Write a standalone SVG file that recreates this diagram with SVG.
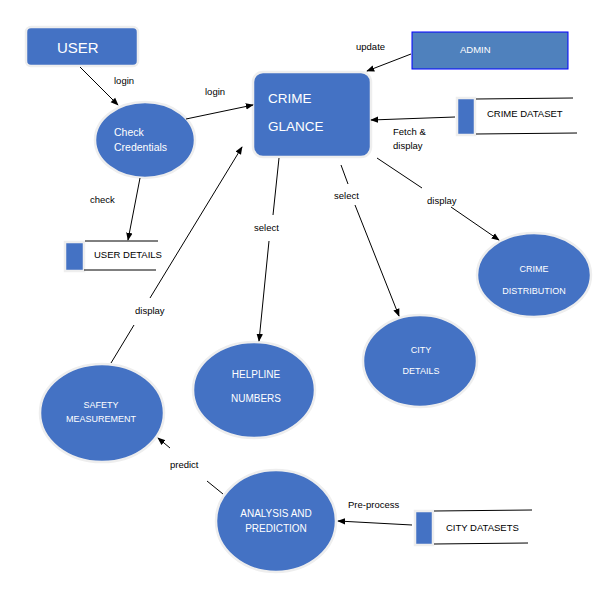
<svg xmlns="http://www.w3.org/2000/svg" width="596" height="590" viewBox="0 0 596 590">
<style>
.n{fill:#4472C4;stroke:#EEEEEE;stroke-width:2.5}
.w{fill:#FFFFFF;font-family:"Liberation Sans",Arial,sans-serif}
.b{fill:#000000;font-family:"Liberation Sans",Arial,sans-serif;font-size:9.5px}
.c{stroke:#000000;stroke-width:1;fill:none}
.s{stroke:#000000;stroke-width:1}
</style>
<defs>
<marker id="ah" viewBox="0 0 10 10" refX="9" refY="5" markerWidth="8" markerHeight="8" markerUnits="userSpaceOnUse" orient="auto">
<path d="M0,1 L10,5 L0,9 Z" fill="#000000"/>
</marker>
</defs>
<rect width="596" height="590" fill="#FFFFFF"/>
<g id="user"><rect class="n" x="26" y="27" width="112" height="39" rx="5"/><text class="w" x="57" y="53" font-size="15">USER</text></g>
<g id="check-credentials"><ellipse class="n" cx="145" cy="140" rx="50" ry="38"/><text class="w" x="114" y="136" font-size="10.5">Check</text><text class="w" x="114" y="151" font-size="10.5">Credentials</text></g>
<g id="crime-glance"><rect class="n" x="253" y="72" width="118" height="85" rx="10"/><text class="w" x="268" y="103" font-size="13.5">CRIME</text><text class="w" x="268" y="131" font-size="13.5">GLANCE</text></g>
<g id="admin"><rect x="412" y="32" width="156" height="37" fill="#4F81BD" stroke="#0000FF" stroke-width="1"/><text class="w" x="460" y="53" font-size="9.5">ADMIN</text></g>
<g id="crime-dataset"><rect class="n" x="457" y="98" width="18" height="37"/><line class="s" x1="476" y1="99" x2="573" y2="98"/><line class="s" x1="476" y1="134" x2="577" y2="133"/><text class="b" x="487" y="117">CRIME DATASET</text></g>
<g id="user-details"><rect class="n" x="65" y="242" width="19" height="29"/><line class="s" x1="85" y1="241" x2="158" y2="241"/><line class="s" x1="84" y1="270" x2="156" y2="270"/><text class="b" x="94" y="258">USER DETAILS</text></g>
<g id="city-datasets"><rect class="n" x="415" y="511" width="18" height="34"/><line class="s" x1="434" y1="511" x2="532" y2="510"/><line class="s" x1="434" y1="544" x2="528" y2="543"/><text class="b" x="446" y="531">CITY DATASETS</text></g>
<g id="crime-distribution"><ellipse class="n" cx="534" cy="275" rx="57" ry="42"/><text class="w" x="534" y="272" font-size="9" text-anchor="middle">CRIME</text><text class="w" x="534" y="294" font-size="9" text-anchor="middle">DISTRIBUTION</text></g>
<g id="city-details"><ellipse class="n" cx="420" cy="361" rx="57" ry="46"/><text class="w" x="421" y="353" font-size="9" text-anchor="middle">CITY</text><text class="w" x="421" y="374" font-size="9" text-anchor="middle">DETAILS</text></g>
<g id="helpline-numbers"><ellipse class="n" cx="254" cy="390" rx="61" ry="48"/><text class="w" x="256" y="378" font-size="10" text-anchor="middle">HELPLINE</text><text class="w" x="256" y="402" font-size="10" text-anchor="middle">NUMBERS</text></g>
<g id="safety-measurement"><ellipse class="n" cx="102" cy="413" rx="62" ry="49"/><text class="w" x="101" y="408" font-size="9" text-anchor="middle">SAFETY</text><text class="w" x="101" y="422" font-size="9" text-anchor="middle">MEASUREMENT</text></g>
<g id="analysis-prediction"><ellipse class="n" cx="276" cy="521" rx="60" ry="51"/><text class="w" x="276" y="517" font-size="10" text-anchor="middle">ANALYSIS AND</text><text class="w" x="276" y="532" font-size="10" text-anchor="middle">PREDICTION</text></g>
<g id="connectors">
<line class="c" x1="80" y1="67" x2="118" y2="105" marker-end="url(#ah)"/>
<text class="b" x="114" y="84">login</text>
<line class="c" x1="186" y1="119" x2="253" y2="105" marker-end="url(#ah)"/>
<text class="b" x="205" y="95">login</text>
<line class="c" x1="140" y1="178" x2="128" y2="240" marker-end="url(#ah)"/>
<text class="b" x="90" y="203">check</text>
<line class="c" x1="111" y1="363" x2="134" y2="325"/>
<line class="c" x1="150" y1="298" x2="242" y2="147" marker-end="url(#ah)"/>
<text class="b" x="135" y="314">display</text>
<line class="c" x1="279" y1="158" x2="273" y2="215"/>
<line class="c" x1="269" y1="241" x2="259" y2="341" marker-end="url(#ah)"/>
<text class="b" x="254" y="231">select</text>
<line class="c" x1="341" y1="165" x2="348" y2="184"/>
<line class="c" x1="355" y1="205" x2="399" y2="316" marker-end="url(#ah)"/>
<text class="b" x="334" y="199">select</text>
<line class="c" x1="377" y1="158" x2="422" y2="188"/>
<line class="c" x1="451" y1="207" x2="499" y2="240" marker-end="url(#ah)"/>
<text class="b" x="427" y="204">display</text>
<line class="c" x1="411" y1="54" x2="367" y2="71" marker-end="url(#ah)"/>
<text class="b" x="356" y="50">update</text>
<line class="c" x1="455" y1="117" x2="371" y2="120" marker-end="url(#ah)"/>
<text class="b" x="393" y="135">Fetch &amp;</text>
<text class="b" x="393" y="149">display</text>
<line class="c" x1="223" y1="494" x2="207" y2="481"/>
<line class="c" x1="170" y1="448" x2="158" y2="438" marker-end="url(#ah)"/>
<text class="b" x="170" y="468">predict</text>
<line class="c" x1="412" y1="525" x2="338" y2="521" marker-end="url(#ah)"/>
<text class="b" x="348" y="508">Pre-process</text>
</g>
</svg>
